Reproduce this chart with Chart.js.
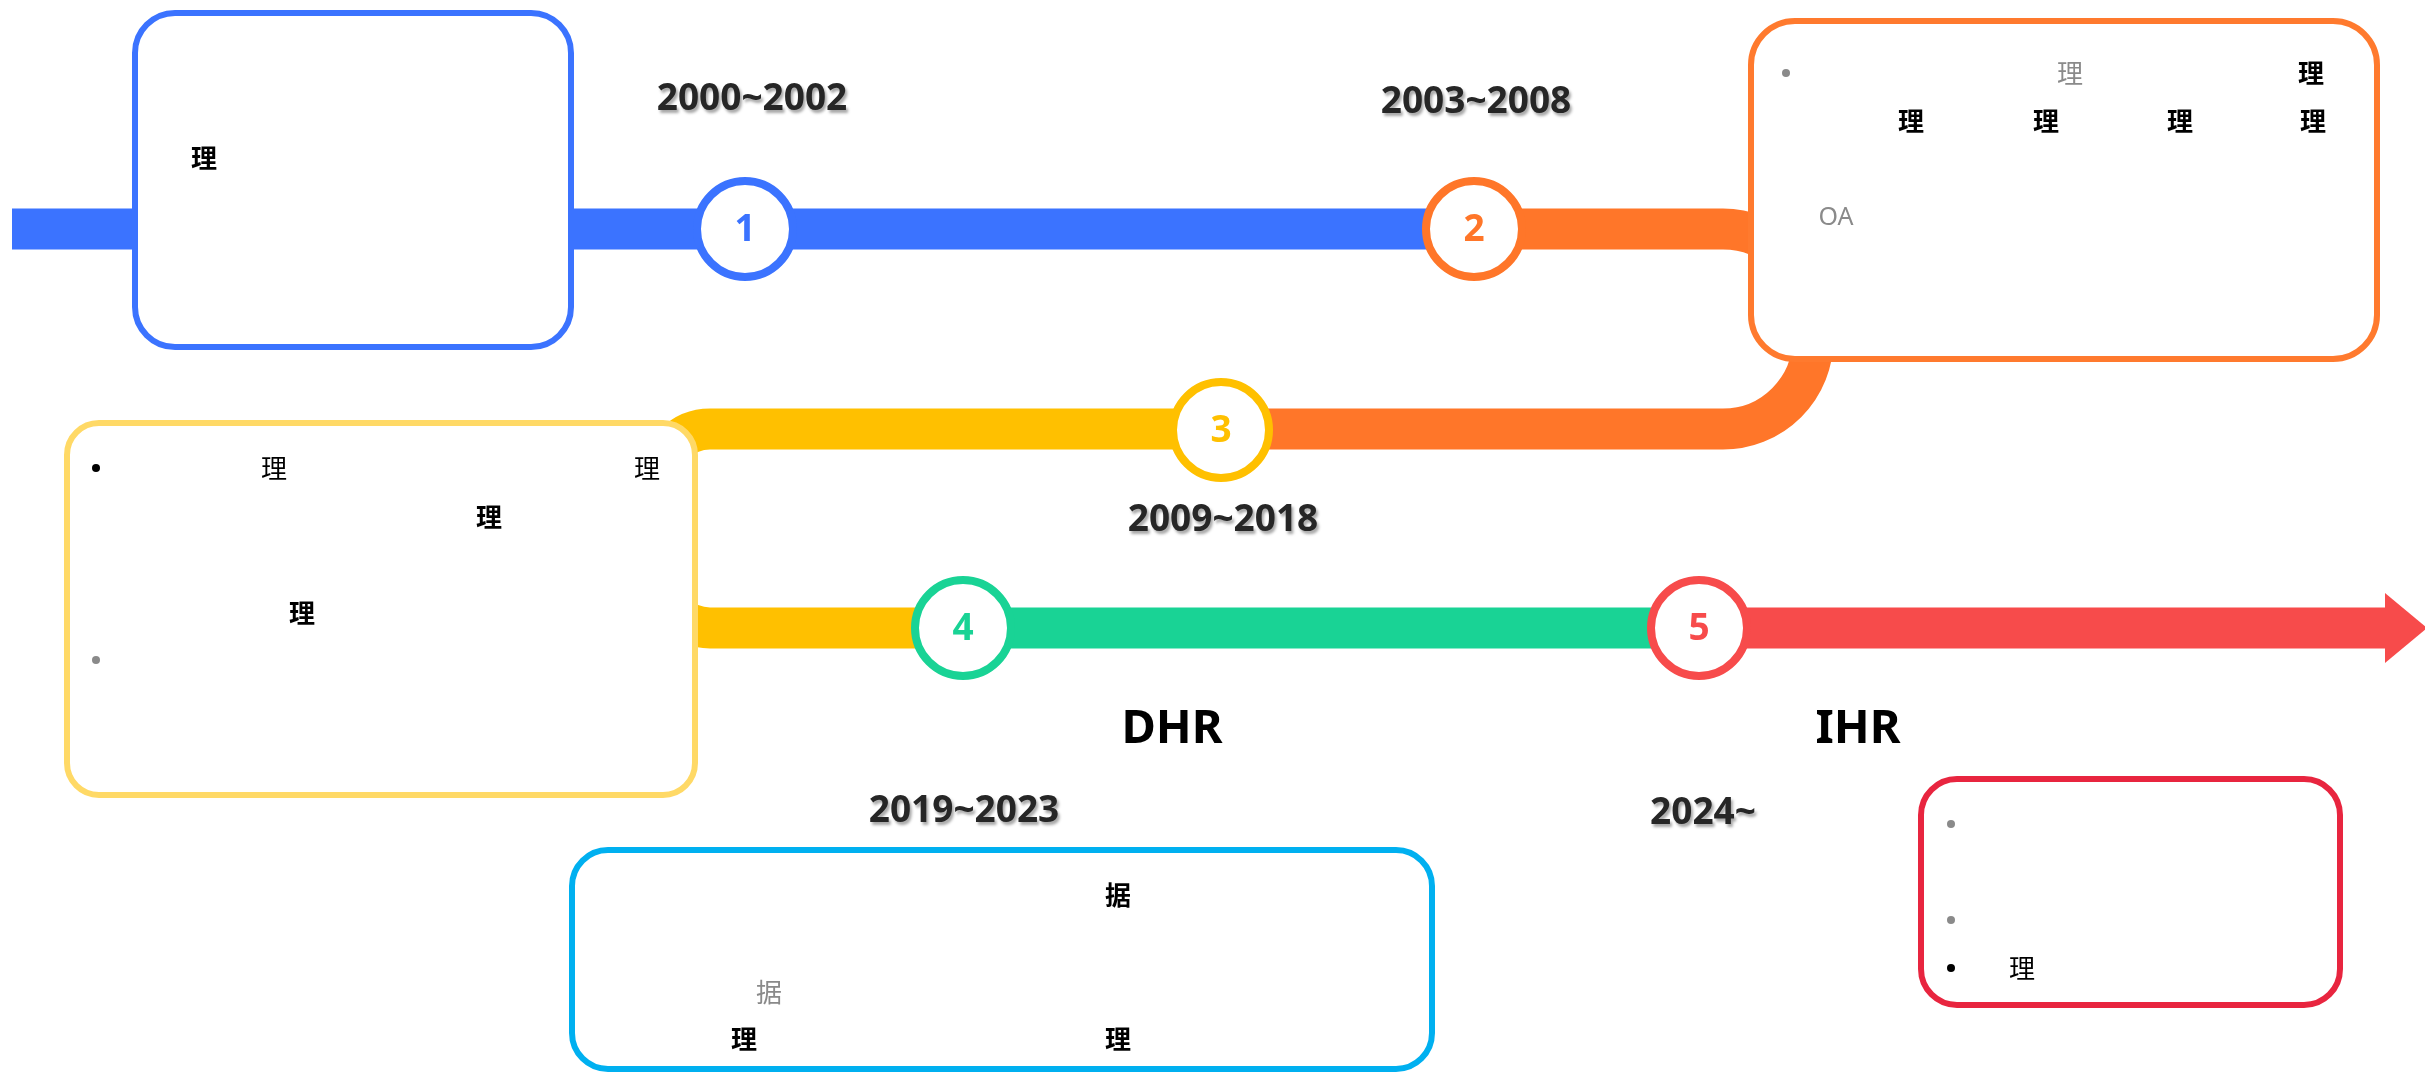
<!DOCTYPE html>
<html>
<head>
<meta charset="utf-8">
<title>timeline</title>
<script src="https://cdn.jsdelivr.net/npm/chart.js@4.4.1/dist/chart.umd.min.js"></script>
<style>
  html, body { margin: 0; padding: 0; background: #fff; overflow: hidden; }
  #wrap { width: 2425px; height: 1076px; position: relative; }
</style>
</head>
<body>
<div id="wrap"><canvas id="chartz"></canvas></div>
<script>
'use strict'

// stages of the timeline
const stageNumbers = ['1', '2', '3', '4', '5'];
const stageYears = ['2000~2002', '2003~2008', '2009~2018', '2019~2023', '2024~'];
const stageNames = ['', '', '', 'DHR', 'IHR'];
const stageX = [745, 1474, 1221, 963, 1699];
const stageY = [229, 229, 430, 628, 628];

// track waypoints, one list per coloured stretch
const trackX = [[12, 1474], [1474, 1813, 1813, 1221], [1221, 660, 660, 963], [963, 1699], [1699, 2386]];
const trackY = [[229, 229], [229, 229, 429, 429], [429, 429, 628, 628], [628, 628], [628, 628]];

// styles / layout
const stageColors = ['#3B73FF', '#FF7629', '#FFC000', '#19D395', '#F74B4B'];
const trackCorner = [0, 90, 50, 0, 0];
const trackWidth = 41;
const yearPos = [[752, 99], [1476, 102], [1223, 520], [964, 811], [1703, 813]];
const namePos = [null, null, null, [1172, 730], [1858, 730]];

const boxes = [
  { x0: 132, y0: 10, x1: 574, y1: 350, r: 40, color: '#3B73FF' },
  { x0: 1748, y0: 18, x1: 2380, y1: 362, r: 44, color: '#FF7A2E' },
  { x0: 64, y0: 420, x1: 698, y1: 798, r: 32, color: '#FFD966' },
  { x0: 569, y0: 847, x1: 1435, y1: 1072, r: 36, color: '#00B0F0' },
  { x0: 1918, y0: 776, x1: 2343, y1: 1008, r: 36, color: '#E8253F' }
];

// what is left readable inside the boxes
const notes = [
  { t: '理', x: 204, y: 158, bold: true },
  { t: '•', x: 1786, y: 73, gray: true },
  { t: '理', x: 2070, y: 73, gray: true },
  { t: '理', x: 2311, y: 73, bold: true },
  { t: '理', x: 1911, y: 121, bold: true },
  { t: '理', x: 2046, y: 121, bold: true },
  { t: '理', x: 2180, y: 121, bold: true },
  { t: '理', x: 2313, y: 121, bold: true },
  { t: 'OA', x: 1836, y: 218, gray: true, latin: true },
  { t: '•', x: 96, y: 468 },
  { t: '理', x: 274, y: 468 },
  { t: '理', x: 647, y: 468 },
  { t: '理', x: 489, y: 517, bold: true },
  { t: '理', x: 302, y: 613, bold: true },
  { t: '•', x: 96, y: 660, gray: true },
  { t: '据', x: 1118, y: 895, bold: true },
  { t: '据', x: 769, y: 992, gray: true },
  { t: '理', x: 744, y: 1039, bold: true },
  { t: '理', x: 1118, y: 1039, bold: true },
  { t: '•', x: 1951, y: 824, gray: true },
  { t: '•', x: 1951, y: 920, gray: true },
  { t: '•', x: 1951, y: 968 },
  { t: '理', x: 2022, y: 968 }
];

function toPx(chart, x, y) {
  return [chart.scales.x.getPixelForValue(x), chart.scales.y.getPixelForValue(y)];
}

function roundBox(ctx, x0, y0, x1, y1, r) {
  ctx.beginPath();
  ctx.moveTo(x0 + r, y0);
  ctx.arcTo(x1, y0, x1, y1, r);
  ctx.arcTo(x1, y1, x0, y1, r);
  ctx.arcTo(x0, y1, x0, y0, r);
  ctx.arcTo(x0, y0, x1, y0, r);
  ctx.closePath();
}

const timelinePlugin = {
  id: 'timeline',
  beforeDatasetsDraw(chart) {
    const ctx = chart.ctx;
    ctx.save();
    // tracks
    trackX.forEach((xs, i) => {
      const pts = xs.map((x, j) => toPx(chart, x, trackY[i][j]));
      ctx.beginPath();
      ctx.moveTo(pts[0][0], pts[0][1]);
      for (let j = 1; j < pts.length - 1; j++) {
        ctx.arcTo(pts[j][0], pts[j][1], pts[j + 1][0], pts[j + 1][1], trackCorner[i]);
      }
      ctx.lineTo(pts[pts.length - 1][0], pts[pts.length - 1][1]);
      ctx.lineWidth = trackWidth;
      ctx.lineCap = 'butt';
      ctx.strokeStyle = stageColors[i];
      ctx.stroke();
    });
    // arrow head
    const last = trackX.length - 1;
    const end = toPx(chart, trackX[last][trackX[last].length - 1], trackY[last][0]);
    ctx.beginPath();
    ctx.moveTo(end[0] - 1, end[1] - 35);
    ctx.lineTo(end[0] + 41, end[1]);
    ctx.lineTo(end[0] - 1, end[1] + 35);
    ctx.closePath();
    ctx.fillStyle = stageColors[last];
    ctx.fill();

    // boxes
    boxes.forEach(b => {
      const p0 = toPx(chart, b.x0, b.y0);
      const p1 = toPx(chart, b.x1, b.y1);
      roundBox(ctx, p0[0] + 3, p0[1] + 3, p1[0] - 3, p1[1] - 3, b.r);
      ctx.fillStyle = '#fff';
      ctx.fill();
      ctx.lineWidth = 6;
      ctx.strokeStyle = b.color;
      ctx.stroke();
    });
    ctx.restore();
  },
  afterDatasetsDraw(chart) {
    const ctx = chart.ctx;
    ctx.save();
    ctx.textAlign = 'center';
    ctx.textBaseline = 'middle';

    // numbers in the circles
    const meta = chart.getDatasetMeta(0);
    meta.data.forEach((pt, i) => {
      ctx.font = 'bold 37px "Noto Sans"';
      ctx.fillStyle = stageColors[i];
      ctx.fillText(stageNumbers[i], pt.x, pt.y + 1);
    });

    // years
    stageYears.forEach((y, i) => {
      const p = toPx(chart, yearPos[i][0], yearPos[i][1]);
      ctx.font = 'bold 37px "Noto Sans"';
      ctx.shadowColor = 'rgba(0,0,0,0.35)';
      ctx.shadowOffsetX = 2;
      ctx.shadowOffsetY = 3;
      ctx.shadowBlur = 3;
      ctx.fillStyle = '#262626';
      ctx.fillText(y, p[0], p[1]);
    });
    ctx.shadowColor = 'transparent';
    ctx.shadowBlur = 0;
    ctx.shadowOffsetX = 0;
    ctx.shadowOffsetY = 0;

    // stage names
    stageNames.forEach((n, i) => {
      if (!n) return;
      const p = toPx(chart, namePos[i][0], namePos[i][1]);
      ctx.font = 'bold 47px "Noto Sans"';
      ctx.fillStyle = '#000';
      ctx.fillText(n, p[0], p[1]);
    });

    // box notes
    notes.forEach(n => {
      const p = toPx(chart, n.x, n.y);
      ctx.fillStyle = n.gray ? '#8a8a8a' : '#000';
      if (n.t === '•') {
        ctx.beginPath();
        ctx.arc(p[0], p[1], 4, 0, Math.PI * 2);
        ctx.fill();
        return;
      }
      const fam = n.latin ? '"Noto Sans"' : '"Noto Sans CJK SC"';
      ctx.font = (n.bold ? 'bold ' : '') + (n.latin ? '25px ' : '26px ') + fam;
      ctx.fillText(n.t, p[0], p[1]);
    });
    ctx.restore();
  }
};

const data = {
  datasets: [{
    label: 'stages',
    data: stageX.map((x, i) => ({ x: x, y: stageY[i] })),
    pointRadius: 48,
    pointHoverRadius: 48,
    pointBorderWidth: 8,
    pointBackgroundColor: '#fff',
    pointBorderColor: stageColors,
    showLine: false,
    clip: false
  }]
};

const config = {
  type: 'scatter',
  data: data,
  options: {
    responsive: true,
    maintainAspectRatio: false,
    devicePixelRatio: 1,
    animation: false,
    layout: { padding: 0, autoPadding: false },
    events: [],
    plugins: { legend: { display: false }, tooltip: { enabled: false } },
    scales: {
      x: { type: 'linear', min: 0, max: 2425, display: false },
      y: { type: 'linear', min: 0, max: 1076, reverse: true, display: false }
    }
  },
  plugins: [timelinePlugin]
};

const myChart = new Chart(document.getElementById('chartz'), config);
</script>
</body>
</html>
